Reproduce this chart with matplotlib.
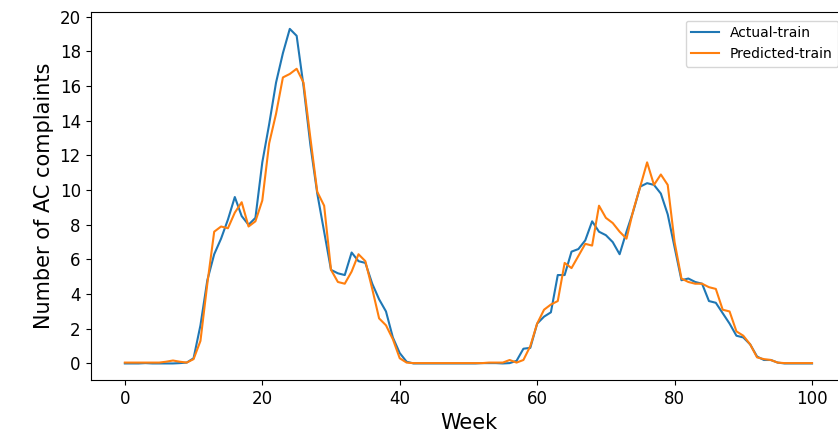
import matplotlib
matplotlib.use("Agg")
import matplotlib.pyplot as plt
import numpy as np

weeks = np.arange(0, 101)

actual_train = [
    0.0, 0.0, 0.0, 0.02, 0.0, 0.0, 0.0, 0.0, 0.02, 0.05,   # 0-9
    0.3, 2.2, 4.8, 6.3, 7.2, 8.3, 9.6, 8.5, 8.0, 8.4,      # 10-19
    11.6, 13.8, 16.2, 17.9, 19.3, 18.9, 16.0, 12.6, 9.8, 7.6,  # 20-29
    5.4, 5.2, 5.1, 6.4, 5.9, 5.8, 4.6, 3.7, 3.0, 1.5,      # 30-39
    0.6, 0.1, 0.0, 0.0, 0.0, 0.0, 0.0, 0.0, 0.0, 0.0,      # 40-49
    0.0, 0.0, 0.02, 0.02, 0.02, 0.0, 0.02, 0.15, 0.85, 0.9,  # 50-59
    2.3, 2.7, 2.95, 5.1, 5.1, 6.45, 6.6, 7.1, 8.2, 7.6,    # 60-69
    7.4, 7.0, 6.3, 7.6, 8.8, 10.2, 10.4, 10.3, 9.8, 8.6,   # 70-79
    6.7, 4.8, 4.9, 4.7, 4.6, 3.6, 3.5, 2.9, 2.3, 1.6,      # 80-89
    1.5, 1.1, 0.4, 0.2, 0.2, 0.05, 0.0, 0.0, 0.0, 0.0,     # 90-99
    0.0,                                                   # 100
]

predicted_train = [
    0.05, 0.05, 0.05, 0.05, 0.05, 0.05, 0.1, 0.17, 0.1, 0.05,  # 0-9
    0.25, 1.3, 4.6, 7.6, 7.9, 7.8, 8.7, 9.3, 7.9, 8.2,         # 10-19
    9.4, 12.7, 14.4, 16.5, 16.7, 17.0, 16.2, 13.0, 9.9, 9.1,   # 20-29
    5.4, 4.7, 4.6, 5.3, 6.3, 5.9, 4.3, 2.6, 2.2, 1.4,          # 30-39
    0.3, 0.05, 0.02, 0.02, 0.02, 0.02, 0.02, 0.02, 0.02, 0.02, # 40-49
    0.02, 0.02, 0.02, 0.05, 0.05, 0.05, 0.2, 0.05, 0.2, 1.0,   # 50-59
    2.3, 3.1, 3.4, 3.6, 5.8, 5.5, 6.2, 6.9, 6.8, 9.1,          # 60-69
    8.4, 8.1, 7.6, 7.2, 8.85, 10.2, 11.6, 10.3, 10.9, 10.3,    # 70-79
    7.0, 4.9, 4.7, 4.6, 4.6, 4.4, 4.3, 3.1, 3.0, 1.85,         # 80-89
    1.6, 1.1, 0.35, 0.25, 0.2, 0.05, 0.02, 0.02, 0.02, 0.02,   # 90-99
    0.02,                                                      # 100
]

fig = plt.figure(figsize=(8.38, 4.34), dpi=100)
# the original figure is cropped on the right, so the axes run past the edge
ax = fig.add_axes([0.108, 0.124, 0.902, 0.848])

ax.plot(weeks, actual_train, label="Actual-train")
ax.plot(weeks, predicted_train, label="Predicted-train")

ax.spines["right"].set_visible(False)
ax.set_yticks(np.arange(0, 21, 2))
ax.tick_params(axis="both", labelsize=12)
ax.set_xlabel("Week", fontsize=15)
ax.set_ylabel("Number of AC complaints", fontsize=15)
ax.legend(loc="upper right", bbox_to_anchor=(0.9985, 0.996))

fig.savefig("out.png", dpi=100)
